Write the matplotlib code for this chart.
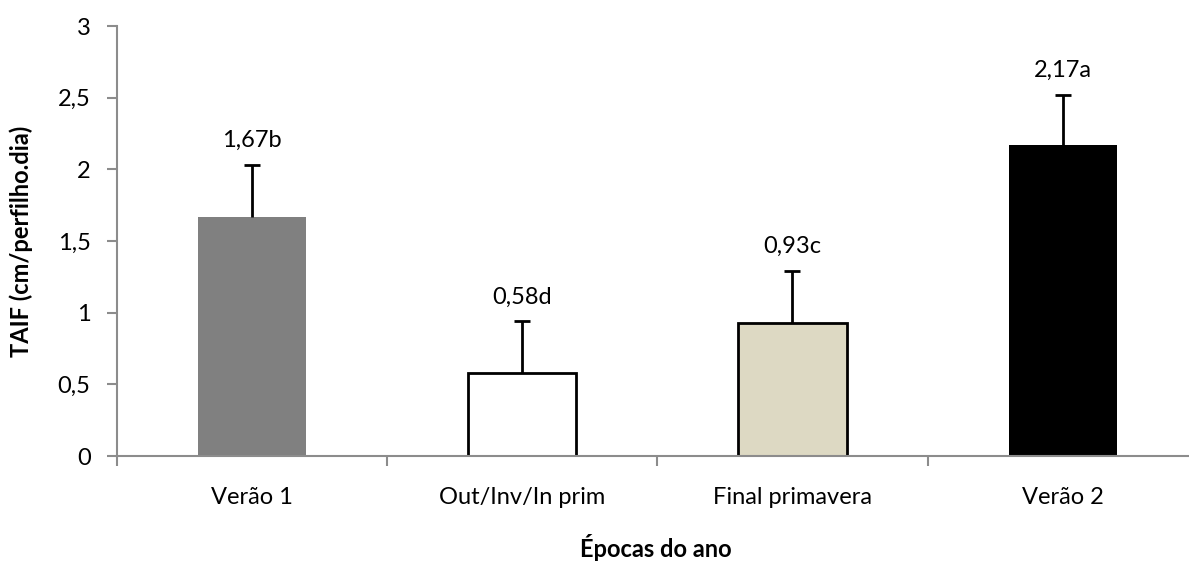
import numpy as np
import matplotlib; matplotlib.use("Agg"); import matplotlib.pyplot as plt

plt.rcParams["font.family"] = ["Lato", "DejaVu Sans"]

epocas = ["Verão 1", "Out/Inv/In prim", "Final primavera", "Verão 2"]
taif = [1.67, 0.58, 0.93, 2.17]
desvio = [0.36, 0.36, 0.36, 0.35]
letras = ["b", "d", "c", "a"]
cores = ["#808080", "#ffffff", "#ddd9c3", "#000000"]
bordas = ["none", "#000000", "#000000", "none"]

fs = 17
axc = "#8c8c8c"

fig = plt.figure(figsize=(11.89, 5.63), dpi=100)
ax = fig.add_axes([0.0984, 0.190, 0.909, 0.7638])
x = np.arange(len(epocas))
ax.bar(x, taif, width=0.4, color=cores, edgecolor=bordas, linewidth=2, zorder=2)
eb = ax.errorbar(x, taif, yerr=[np.zeros(len(taif)), desvio], fmt="none", ecolor="black",
                 elinewidth=2, capsize=6, capthick=2, zorder=3)
# only the upper cap is wanted
eb[1][0].set_visible(False)
for xi, v, s, l in zip(x, taif, desvio, letras):
    ax.annotate(f"{v:.2f}".replace(".", ",") + l, (xi, v + s), xytext=(0, 10),
                textcoords="offset points", ha="center", va="bottom", fontsize=fs)

ax.set_xlim(-0.5, 3.5); ax.set_ylim(0, 3)
ax.set_yticks(np.arange(0, 3.01, 0.5))
ax.set_yticklabels([f"{t:g}".replace(".", ",") for t in np.arange(0, 3.01, 0.5)])
ax.set_xticks(x); ax.set_xticklabels(epocas)
ax.set_xticks(np.arange(-0.5, 3.6, 1), minor=True)
ax.tick_params(axis="x", which="major", length=0, pad=22, labelsize=fs)
ax.tick_params(axis="x", which="minor", length=7, width=1.5, color=axc)
ax.tick_params(axis="y", length=7, width=1.5, color=axc, labelsize=fs, pad=12)
for sp in ("top", "right"): ax.spines[sp].set_visible(False)
for sp in ("left", "bottom"):
    ax.spines[sp].set_color(axc); ax.spines[sp].set_linewidth(1.5); ax.spines[sp].set_zorder(4)

ax.set_ylabel("TAIF (cm/perfilho.dia)", fontsize=fs, fontweight="bold")
ax.yaxis.set_label_coords(-0.078, 0.5)
ax.set_xlabel("Épocas do ano", fontsize=fs, fontweight="bold")
ax.xaxis.set_label_coords(0.4986, -0.182)

fig.savefig("out.png", dpi=100)
